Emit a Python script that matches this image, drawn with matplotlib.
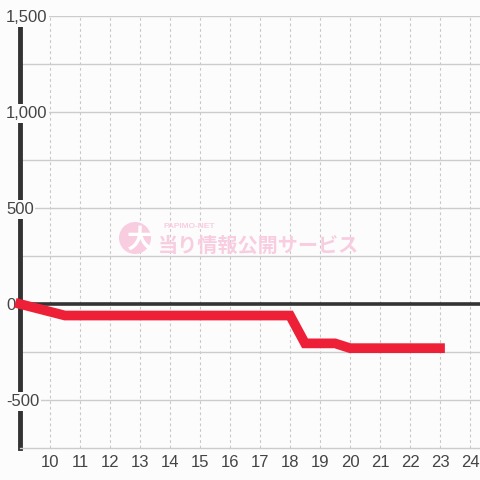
import matplotlib.pyplot as plt
from matplotlib.patches import Circle
from matplotlib.ticker import MultipleLocator

plt.rcParams['font.family'] = ['Liberation Sans', 'DejaVu Sans']

# データ (時刻, 差枚)
hours = [9, 10.5, 18, 18.5, 19.5, 20, 23]
diff = [0, -60, -60, -205, -205, -230, -230]

x_ticks = list(range(10, 25))
y_labels = [-500, 0, 500, 1000, 1500]

BG = '#fcfcfc'
PINK = '#f9cde0'

fig = plt.figure(figsize=(4.8, 4.8), dpi=100, facecolor=BG)
ax = fig.add_axes([20 / 480, 32 / 480, 460 / 480, 432 / 480])
ax.set_facecolor(BG)

ax.set_xlim(9, 24.333)
ax.set_ylim(-750, 1500)

# グリッド
ax.set_xticks(x_ticks)
ax.yaxis.set_major_locator(MultipleLocator(250))
for x in x_ticks:
    ax.axvline(x, color='#c8c8c8', lw=0.8, ls=(0, (2.5, 2.5)), zorder=1)
for y in range(-500, 1501, 250):
    ax.axhline(y, color='#cccccc', lw=1, zorder=1)
ax.axhline(0, color='#333333', lw=2.6, zorder=3)

for s in ['top', 'right']:
    ax.spines[s].set_visible(False)
ax.spines['bottom'].set_color('#cccccc')
ax.spines['bottom'].set_linewidth(1)
ax.spines['left'].set_color('#333333')
ax.spines['left'].set_linewidth(3.5)
ax.spines['left'].set_zorder(2)

ax.tick_params(axis='x', length=0, pad=5, labelsize=12, labelcolor='#444444')
ax.tick_params(axis='y', length=0, labelleft=False)

# y ラベル (軸の上に背景付きで)
for v in y_labels:
    ax.text(-14 / 460, v, format(v, ','), transform=ax.get_yaxis_transform(),
            ha='left', va='center_baseline', fontsize=12, color='#444444', zorder=4,
            bbox=dict(boxstyle='square,pad=0.1', fc=BG, ec='none'))

# ウォーターマーク
fig.patches.append(Circle((135 / 480, 1 - 238 / 480), 16 / 480, transform=fig.transFigure,
                          fc=PINK, ec='none'))
fig.text(140 / 480, 1 - 240 / 480, '大', fontsize=19, color='white', ha='center', va='center',
         family='Noto Sans CJK JP', weight='bold')
fig.text(163 / 480, 1 - 226 / 480, 'PAPIMO-NET', fontsize=6, color=PINK, ha='left',
         va='center', weight='bold')
fig.text(158 / 480, 1 - 245 / 480, '当り情報公開サービス', fontsize=14.5, color=PINK, ha='left',
         va='center', family='Noto Sans CJK JP', weight='bold')

ax.plot(hours, diff, color='#ee2038', lw=7, solid_joinstyle='miter',
        solid_capstyle='projecting', zorder=5, clip_on=False)

fig.savefig('out.png', dpi=100, facecolor=BG)
